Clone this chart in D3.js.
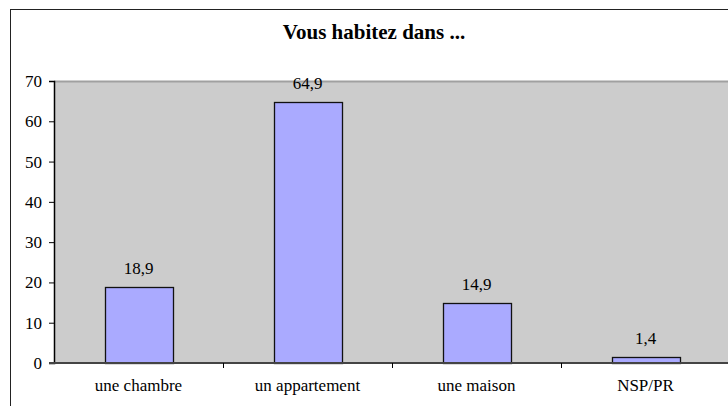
<!DOCTYPE html>
<html><head><meta charset="utf-8">
<script src="https://cdn.jsdelivr.net/npm/d3@7"></script>
<style>body{margin:0;background:#fff}svg{display:block}svg text{font-family:"Liberation Serif","Times New Roman","DejaVu Serif",serif}</style>
</head><body><svg id="c" width="728" height="406"></svg>
<script>
const categories = ["une chambre", "un appartement", "une maison", "NSP/PR"];
const values = [18.9, 64.9, 14.9, 1.4];
const valueLabels = ["18,9", "64,9", "14,9", "1,4"];
const yTicks = [0, 10, 20, 30, 40, 50, 60, 70];
const title = "Vous habitez dans ...";

const svg = d3.select("#c");
const font = '"Liberation Serif","Times New Roman","DejaVu Serif",serif';
const L = 54, R = 730, T = 81, B = 363;

svg.append("rect").attr("x", 10.5).attr("y", 9.5).attr("width", 740).attr("height", 420)
  .attr("fill", "#fff").attr("stroke", "#222").attr("stroke-width", 1);

const xb = d3.scaleBand().domain(categories).range([L, R]);
const y = d3.scaleLinear().domain([0, 70]).range([B, T]);

svg.append("rect").attr("x", L).attr("y", T).attr("width", R - L).attr("height", B - T).attr("fill", "#cccccc");
svg.append("line").attr("x1", L).attr("x2", R).attr("y1", T + 0.5).attr("y2", T + 0.5).attr("stroke", "#a0a0a0").attr("stroke-width", 2);

svg.append("text").attr("x", 374).attr("y", 39).attr("text-anchor", "middle")
  .style("font-family", font).attr("font-weight", "bold").attr("font-size", 21).text(title);

svg.selectAll("rect.bar").data(values).enter().append("rect").attr("class", "bar")
  .attr("x", (d, i) => Math.round(xb(categories[i]) + xb.bandwidth() * 0.3) + 0.5)
  .attr("width", Math.round(xb.bandwidth() * 0.4))
  .attr("y", d => Math.round(y(d)) + 0.5)
  .attr("height", d => B - Math.round(y(d)))
  .attr("fill", "#aaaaff").attr("stroke", "#111").attr("stroke-width", 1.3);

svg.selectAll("text.vl").data(values).enter().append("text").attr("class", "vl")
  .attr("x", (d, i) => xb(categories[i]) + xb.bandwidth() / 2)
  .attr("y", d => y(d) - 13)
  .attr("text-anchor", "middle").style("font-family", font).attr("font-size", 17).attr("fill", "#000")
  .text((d, i) => valueLabels[i]);

const yAxis = svg.append("g").attr("transform", `translate(${L},0)`)
  .call(d3.axisLeft(y).tickValues(yTicks).tickSize(5).tickPadding(7).tickFormat(d3.format("d")));
yAxis.attr("font-family", null);
yAxis.select(".domain").attr("stroke", "#000").attr("stroke-width", 1.5);
yAxis.selectAll(".tick line").attr("stroke", "#000");
yAxis.selectAll("text").style("font-family", font).attr("font-size", 17).attr("fill", "#000");

const xAxis = svg.append("g").attr("transform", `translate(0,${B})`);
xAxis.append("line").attr("x1", L - 5).attr("x2", R).attr("y1", 0).attr("y2", 0).attr("stroke", "#444").attr("stroke-width", 2);
xAxis.selectAll("line.t").data(categories.slice(1)).enter().append("line").attr("class", "t")
  .attr("x1", d => Math.round(xb(d)) + 0.5).attr("x2", d => Math.round(xb(d)) + 0.5)
  .attr("y1", 0).attr("y2", 5).attr("stroke", "#000");
xAxis.selectAll("text").data(categories).enter().append("text")
  .attr("x", d => xb(d) + xb.bandwidth() / 2).attr("y", 27.5)
  .attr("text-anchor", "middle").style("font-family", font).attr("font-size", 17).attr("fill", "#000")
  .text(d => d);
</script></body></html>
